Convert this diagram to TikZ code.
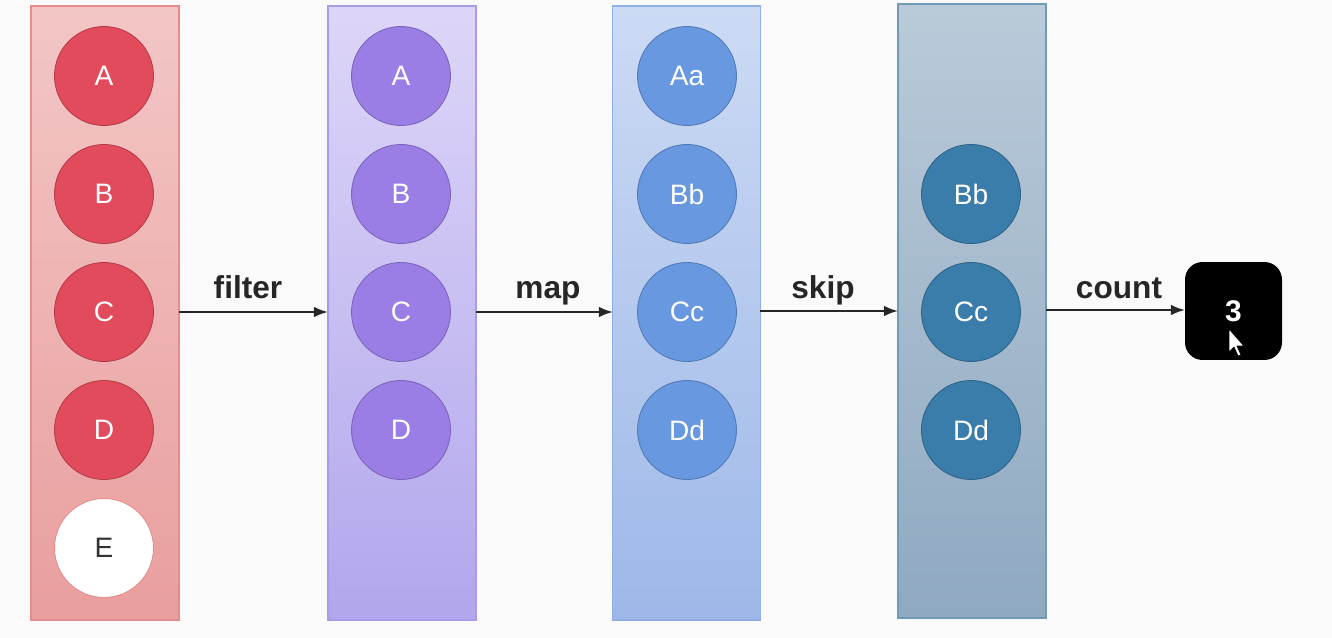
\documentclass[tikz,border=0pt]{standalone}
\usepackage{fontspec}
\setmainfont{Liberation Sans}
\usetikzlibrary{arrows.meta}
\definecolor{redA}{HTML}{F3C6C6}
\definecolor{redB}{HTML}{E99E9E}
\definecolor{redE}{HTML}{E58C8C}
\definecolor{redC}{HTML}{E24B5B}
\definecolor{purA}{HTML}{DDD6F8}
\definecolor{purB}{HTML}{B2A6EC}
\definecolor{purE}{HTML}{A99BE8}
\definecolor{purC}{HTML}{9A7EE6}
\definecolor{bluA}{HTML}{CCDAF4}
\definecolor{bluB}{HTML}{9DB8E8}
\definecolor{bluE}{HTML}{8FB0E6}
\definecolor{bluC}{HTML}{6798E0}
\definecolor{stlA}{HTML}{BACAD9}
\definecolor{stlB}{HTML}{8FA9C1}
\definecolor{stlE}{HTML}{6F9AB8}
\definecolor{stlC}{HTML}{3A7DAA}
\tikzset{
  col/.style={rectangle, minimum width=2.96cm, minimum height=12.28cm, line width=0.8pt, inner sep=0pt},
  ball/.style={circle, minimum size=1.98cm, inner sep=0pt, text=white, font=\fontsize{16}{18}\selectfont, line width=0.5pt},
  lbl/.style={font=\bfseries\fontsize{18}{20}\selectfont, text=black!85, anchor=base},
  arr/.style={-{Latex[length=8pt,width=6pt]}, line width=1.1pt, black!85}
}
\begin{document}
\begin{tikzpicture}[x=0.02cm,y=-0.02cm]
\useasboundingbox (0,0) rectangle (1332,638);
\fill[white!98!black] (0,0) rectangle (1332,638);
% columns
\node[col, draw=redE, top color=redA, bottom color=redB] (c1) at (105,313) {};
\node[col, draw=purE, top color=purA, bottom color=purB] (c2) at (402,313) {};
\node[col, draw=bluE, top color=bluA, bottom color=bluB] (c3) at (686.5,313) {};
\node[col, draw=stlE, top color=stlA, bottom color=stlB] (c4) at (972,311) {};
% column 1
\node[ball, fill=redC, draw=redC!80!black] (a1) at (104,76) {A};
\node[ball, fill=redC, draw=redC!80!black] (b1) at (104,194) {B};
\node[ball, fill=redC, draw=redC!80!black] (cc1) at (104,312) {C};
\node[ball, fill=redC, draw=redC!80!black] (d1) at (104,430) {D};
\node[ball, fill=white, draw=redE, text=black!80] (e1) at (104,548) {E};
% column 2
\node[ball, fill=purC, draw=purC!80!black] (a2) at (401,76) {A};
\node[ball, fill=purC, draw=purC!80!black] (b2) at (401,194) {B};
\node[ball, fill=purC, draw=purC!80!black] (cc2) at (401,312) {C};
\node[ball, fill=purC, draw=purC!80!black] (d2) at (401,430) {D};
% column 3
\node[ball, fill=bluC, draw=bluC!80!black] (a3) at (687,76) {Aa};
\node[ball, fill=bluC, draw=bluC!80!black] (b3) at (687,194) {Bb};
\node[ball, fill=bluC, draw=bluC!80!black] (cc3) at (687,312) {Cc};
\node[ball, fill=bluC, draw=bluC!80!black] (d3) at (687,430) {Dd};
% column 4
\node[ball, fill=stlC, draw=stlC!80!black] (b4) at (971,194) {Bb};
\node[ball, fill=stlC, draw=stlC!80!black] (cc4) at (971,312) {Cc};
\node[ball, fill=stlC, draw=stlC!80!black] (d4) at (971,430) {Dd};
% result
\node[rectangle, rounded corners=10pt, fill=black, minimum width=1.94cm, minimum height=1.96cm, text=white, font=\bfseries\fontsize{17}{20}\selectfont] (res) at (1233.5,311) {3};
% arrows
\coordinate (p1) at (179,312); \coordinate (q1) at (328,312);
\coordinate (p2) at (476,312); \coordinate (q2) at (613,312);
\coordinate (p3) at (760,311); \coordinate (q3) at (898,311);
\coordinate (p4) at (1046,310); \coordinate (q4) at (1185,310);
\draw[arr] (p1) -- (q1);
\draw[arr] (p2) -- (q2);
\draw[arr] (p3) -- (q3);
\draw[arr] (p4) -- (q4);
\node[lbl] (l1) at (248,299) {filter};
\node[lbl] (l2) at (548,299) {map};
\node[lbl] (l3) at (823,299) {skip};
\node[lbl] (l4) at (1119,299) {count};
% cursor
\draw[fill=white, draw=black, line width=0.4pt, line join=round]
  (1229,329) -- (1229,352) -- (1234,347) -- (1238,356) -- (1241,355) -- (1237,346) -- (1244,346) -- cycle;
\end{tikzpicture}
\end{document}
